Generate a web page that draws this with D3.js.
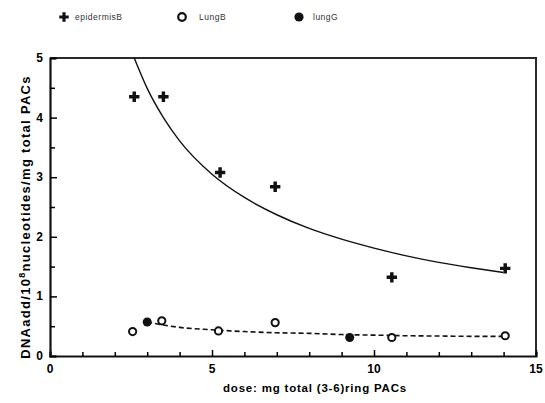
<!DOCTYPE html>
<html>
<head>
<meta charset="utf-8">
<script src="https://cdn.jsdelivr.net/npm/d3@7"></script>
<style>
  body { margin: 0; background: #fff; }
  text { font-family: "Liberation Sans", Arial, sans-serif; }
</style>
</head>
<body>
<script>
// data
var epiDose = [2.6, 3.5, 5.25, 6.95, 10.55, 14.05];
var epiVal  = [4.35, 4.35, 3.08, 2.84, 1.32, 1.47];
var lungBDose = [2.55, 3.45, 5.2, 6.95, 10.55, 14.05];
var lungBVal  = [0.41, 0.59, 0.42, 0.56, 0.31, 0.34];
var lungGDose = [3.0, 9.25];
var lungGVal  = [0.57, 0.31];
// fitted curves as drawn
var epiFitDose = [2.6, 3, 3.5, 4, 5, 6, 7, 8, 9, 10, 11, 12, 13, 14];
var epiFitVal  = [5.0, 4.49, 4.0, 3.61, 3.05, 2.66, 2.37, 2.14, 1.96, 1.81, 1.68, 1.57, 1.48, 1.40];
var lungFitDose = [3.0, 3.5, 4, 5, 6, 7, 8, 9, 10, 11, 12, 13, 14];
var lungFitVal  = [0.57, 0.52, 0.48, 0.44, 0.41, 0.39, 0.38, 0.36, 0.35, 0.34, 0.335, 0.33, 0.33];
var xTicks = [0, 5, 10, 15];
var yTicks = [0, 1, 2, 3, 4, 5];
var legendNames = ["epidermisB", "LungB", "lungG"];

var W = 545, H = 403;
var svg = d3.select("body").append("svg").attr("width", W).attr("height", H);

var x = d3.scaleLinear().domain([0, 15]).range([50, 536]);
var y = d3.scaleLinear().domain([0, 5]).range([356, 58]);

// frame (top + right)
svg.append("path")
  .attr("d", "M" + x(0) + "," + y(5) + "H" + x(15) + "V" + y(0))
  .attr("fill", "none").attr("stroke", "#2a2a2a").attr("stroke-width", 2);

// x axis, ticks pointing inward
var xAxis = svg.append("g").attr("transform", "translate(0," + y(0) + ")");
xAxis.call(d3.axisTop(x).tickValues(d3.range(0, 16, 1)).tickSize(4).tickFormat(""));
xAxis.selectAll(".tick line").attr("stroke-width", 1.5)
  .attr("y2", function(d) { return d % 5 === 0 ? -6 : -4; });
xAxis.select(".domain").attr("stroke-width", 2.2).attr("stroke", "#111");

svg.selectAll(".xlab").data(xTicks).enter().append("text")
  .attr("x", function(d) { return x(d); }).attr("y", 373)
  .attr("text-anchor", "middle").attr("font-size", 12).attr("font-weight", "bold")
  .text(function(d) { return d; });

// y axis, ticks pointing inward
var yAxis = svg.append("g").attr("transform", "translate(" + x(0) + ",0)");
yAxis.call(d3.axisRight(y).tickValues(d3.range(0, 5.01, 0.5)).tickFormat(""));
yAxis.selectAll(".tick line").attr("stroke-width", 1.5)
  .attr("x2", function(d) { return d % 1 === 0 ? 7 : 5; });
yAxis.select(".domain").attr("stroke-width", 2.2).attr("stroke", "#111");

svg.selectAll(".ylab").data(yTicks).enter().append("text")
  .attr("x", 43).attr("y", function(d) { return y(d) + 4; })
  .attr("text-anchor", "end").attr("font-size", 12).attr("font-weight", "bold")
  .text(function(d) { return d; });

// axis titles
svg.append("text")
  .attr("x", 315).attr("y", 392)
  .attr("text-anchor", "middle").attr("font-size", 11.5).attr("font-weight", "bold")
  .attr("letter-spacing", 0.8)
  .text("dose: mg total (3-6)ring PACs");

var yt = svg.append("text")
  .attr("transform", "translate(30,217) rotate(-90)")
  .attr("text-anchor", "middle").attr("font-size", 13).attr("font-weight", "bold")
  .attr("letter-spacing", 1.3);
yt.append("tspan").text("DNAadd/10");
yt.append("tspan").attr("dy", -5).attr("font-size", 9).text("8");
yt.append("tspan").attr("dy", 5).text("nucleotides/mg total PACs");

// fitted curves
var clip = svg.append("clipPath").attr("id", "clip")
  .append("rect").attr("x", x(0)).attr("y", y(5)).attr("width", x(15) - x(0)).attr("height", y(0) - y(5));

var line = d3.line().curve(d3.curveMonotoneX)
  .x(function(d) { return x(d[0]); }).y(function(d) { return y(d[1]); });

svg.append("path")
  .datum(d3.zip(epiFitDose, epiFitVal))
  .attr("d", line).attr("fill", "none").attr("stroke", "#111").attr("stroke-width", 1.4)
  .attr("clip-path", "url(#clip)");

svg.append("path")
  .datum(d3.zip(lungFitDose, lungFitVal))
  .attr("d", line).attr("fill", "none").attr("stroke", "#111").attr("stroke-width", 1.6)
  .attr("stroke-dasharray", "5,3");

// markers
var plus = d3.symbol().type(d3.symbolCross).size(60);

svg.selectAll(".epi").data(d3.zip(epiDose, epiVal)).enter().append("path")
  .attr("d", plus)
  .attr("transform", function(d) { return "translate(" + x(d[0]) + "," + y(d[1]) + ")"; })
  .attr("fill", "#111");

svg.selectAll(".lungG").data(d3.zip(lungGDose, lungGVal)).enter().append("circle")
  .attr("cx", function(d) { return x(d[0]); }).attr("cy", function(d) { return y(d[1]); })
  .attr("r", 4.5).attr("fill", "#111");

svg.selectAll(".lungB").data(d3.zip(lungBDose, lungBVal)).enter().append("circle")
  .attr("cx", function(d) { return x(d[0]); }).attr("cy", function(d) { return y(d[1]); })
  .attr("r", 3.6).attr("fill", "#fff").attr("stroke", "#111").attr("stroke-width", 2);

// legend
var legX = [64, 182, 299];
var leg = svg.selectAll(".leg").data(legendNames).enter().append("g")
  .attr("transform", function(d, i) { return "translate(" + legX[i] + ",17)"; });

leg.each(function(d, i) {
  var g = d3.select(this);
  if (i === 0) g.append("path").attr("d", d3.symbol().type(d3.symbolCross).size(50)).attr("fill", "#111");
  else if (i === 1) g.append("circle").attr("r", 3.8).attr("fill", "#fff").attr("stroke", "#111").attr("stroke-width", 2.2);
  else g.append("circle").attr("r", 4.6).attr("fill", "#111");
  g.append("text").attr("x", i === 0 ? 11 : (i === 1 ? 17 : 14)).attr("y", 3)
    .attr("font-size", 8.5).attr("letter-spacing", 0.5).attr("fill", "#333").text(d);
});
</script>
</body>
</html>
